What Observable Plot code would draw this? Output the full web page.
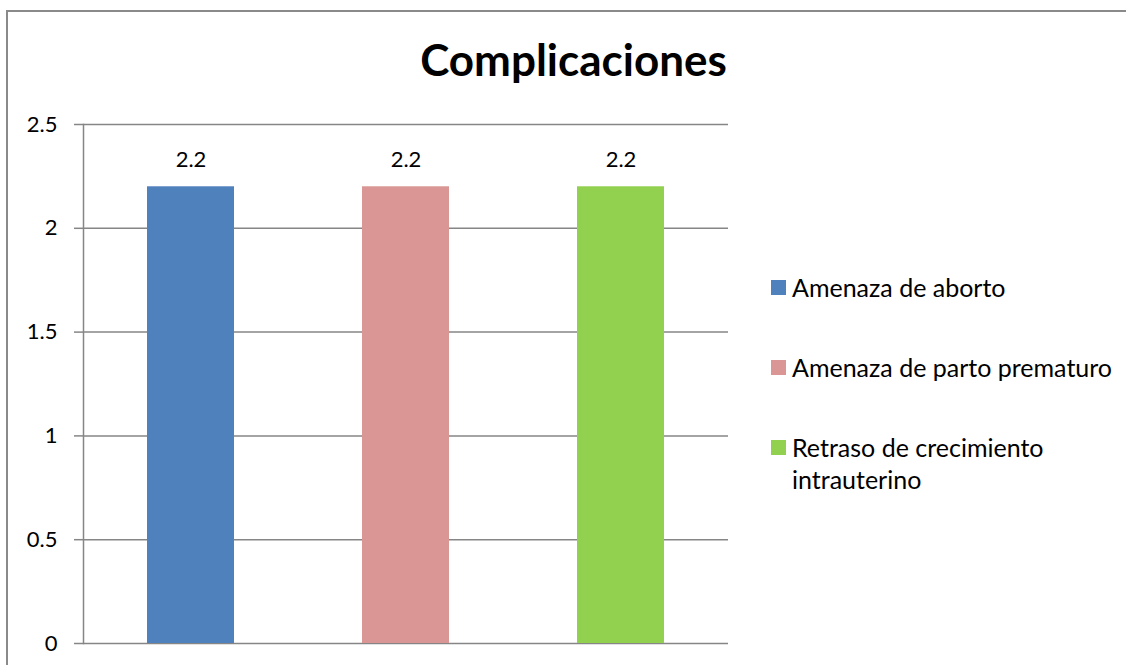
<!DOCTYPE html>
<html>
<head>
<meta charset="utf-8">
<script src="https://cdn.jsdelivr.net/npm/d3@7"></script>
<script src="https://cdn.jsdelivr.net/npm/@observablehq/plot@0.6"></script>
<style>
  html, body { margin: 0; padding: 0; background: #fff; overflow: hidden; }
  #wrap { position: relative; width: 1126px; height: 665px; font-family: Lato, "Open Sans", sans-serif; }
  #border { position: absolute; left: 6px; top: 10px; width: 1200px; height: 800px; border: 2px solid #8a8a8a; box-sizing: border-box; }
  #title { position: absolute; left: 0; width: 1147px; top: 33px; text-align: center; font-weight: bold; font-size: 44px; color: #000; }
  #chart { position: absolute; left: 0; top: 0; }
  #legend { position: absolute; left: 771px; top: 271px; width: 355px; }
  .item { position: relative; padding-left: 21px; font-size: 25px; line-height: 32px; color: #000; margin-bottom: 48px; white-space: nowrap; }
  .sw { position: absolute; left: 0; top: 9px; width: 15px; height: 15px; }
</style>
</head>
<body>
<div id="wrap">
  <div id="border"></div>
  <div id="chart"></div>
  <div id="title">Complicaciones</div>
  <div id="legend"></div>
</div>
<script>
const categories = ["Amenaza de aborto", "Amenaza de parto prematuro", "Retraso de crecimiento intrauterino"];
const legendLabels = ["Amenaza de aborto", "Amenaza de parto prematuro", "Retraso de crecimiento<br>intrauterino"];
const values = [2.2, 2.2, 2.2];
const colors = ["#4F81BD", "#D99694", "#92D050"];
const yTicks = [0, 0.5, 1, 1.5, 2, 2.5];

const data = categories.map((c, i) => ({cat: c, value: values[i]}));

const plot = Plot.plot({
  width: 1126,
  height: 665,
  marginLeft: 83,
  marginRight: 398,
  marginTop: 124,
  marginBottom: 22,
  style: {fontFamily: "Lato, 'Open Sans', sans-serif", background: "transparent", color: "#000"},
  x: {domain: categories, paddingInner: 0.595, paddingOuter: 0.2975, axis: null},
  y: {domain: [0, 2.5]},
  color: {domain: categories, range: colors},
  marks: [
    Plot.gridY({ticks: yTicks, stroke: "#868686", strokeOpacity: 1, strokeWidth: 1.5}),
    Plot.axisY({ticks: yTicks, tickSize: 9, tickPadding: 17, stroke: "#868686", strokeWidth: 1.5, fill: "#000", fontSize: 22, tickFormat: d => String(d), label: null}),
    Plot.frame({anchor: "left", stroke: "#868686", strokeWidth: 1.5}),
    Plot.barY(data, {x: "cat", y: "value", fill: "cat"}),
    Plot.text(data, {x: "cat", y: "value", text: d => d.value.toFixed(1), dy: -27, fontSize: 22, fill: "#000"})
  ]
});
document.getElementById("chart").appendChild(plot);

const legend = document.getElementById("legend");
categories.forEach((c, i) => {
  const item = document.createElement("div");
  item.className = "item";
  item.innerHTML = `<span class="sw" style="background:${colors[i]}"></span>${legendLabels[i]}`;
  legend.appendChild(item);
});
</script>
</body>
</html>
